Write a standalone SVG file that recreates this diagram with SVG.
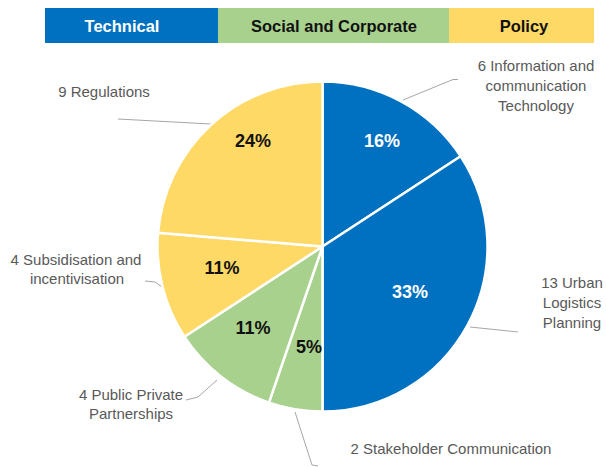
<svg xmlns="http://www.w3.org/2000/svg" width="606" height="467" viewBox="0 0 606 467">
  <style>
    .slice { stroke: #ffffff; stroke-width: 2.5; stroke-linejoin: round; }
    .blue { fill: #0070C0; }
    .green { fill: #A9D18E; }
    .yellow { fill: #FFD966; }
    .hdr { font-family: "Liberation Sans", Arial, sans-serif; font-weight: bold; font-size: 16.5px; text-anchor: middle; }
    .pct { font-family: "Liberation Sans", Arial, sans-serif; font-weight: bold; font-size: 18px; text-anchor: middle; }
    .lbl { font-family: "Liberation Sans", Arial, sans-serif; font-size: 15px; fill: #595959; text-anchor: middle; }
    .lead { fill: none; stroke: #A6A6A6; stroke-width: 1; }
  </style>

  <g id="legend">
    <rect x="45" y="8" width="173" height="35" class="blue"/>
    <rect x="218" y="8" width="231" height="35" class="green"/>
    <rect x="449" y="8" width="145" height="35" class="yellow"/>
    <text x="122" y="31.5" class="hdr" fill="#ffffff">Technical</text>
    <text x="334" y="31.5" class="hdr" fill="#111111">Social and Corporate</text>
    <text x="524" y="31.5" class="hdr" fill="#111111">Policy</text>
  </g>

  <g id="connectors">
    <polyline class="lead" points="403,100 453,79.5 458,79.5"/>
    <polyline class="lead" points="470,327 518,332"/>
    <polyline class="lead" points="295,412 312,465 318,466"/>
    <polyline class="lead" points="186,400 198,397 217,380"/>
    <polyline class="lead" points="145,281 155,282 162,287"/>
    <polyline class="lead" points="118,119 211,124"/>
  </g>

  <g id="ict">
    <path class="slice blue" d="M322.5,246.5 L322.5,81.5 A165,165 0 0 1 460.64,156.26 Z"/>
    <text x="382" y="147" class="pct" fill="#ffffff">16%</text>
    <text class="lbl"><tspan x="536" y="71">6 Information and</tspan><tspan x="536" y="91">communication</tspan><tspan x="536" y="111">Technology</tspan></text>
  </g>

  <g id="urban">
    <path class="slice blue" d="M322.5,246.5 L460.64,156.26 A165,165 0 0 1 322.5,411.5 Z"/>
    <text x="410" y="298" class="pct" fill="#ffffff">33%</text>
    <text class="lbl"><tspan x="572" y="288">13 Urban</tspan><tspan x="572" y="308">Logistics</tspan><tspan x="572" y="328">Planning</tspan></text>
  </g>

  <g id="stakeholder">
    <path class="slice green" d="M322.5,246.5 L322.5,411.5 A165,165 0 0 1 268.93,402.56 Z"/>
    <text x="309" y="353" class="pct" fill="#111111">5%</text>
    <text x="451" y="454" class="lbl">2 Stakeholder Communication</text>
  </g>

  <g id="ppp">
    <path class="slice green" d="M322.5,246.5 L268.93,402.56 A165,165 0 0 1 184.36,336.74 Z"/>
    <text x="253" y="334" class="pct" fill="#111111">11%</text>
    <text class="lbl"><tspan x="131" y="400">4 Public Private</tspan><tspan x="131" y="419">Partnerships</tspan></text>
  </g>

  <g id="subsidisation">
    <path class="slice yellow" d="M322.5,246.5 L184.36,336.74 A165,165 0 0 1 158.07,232.87 Z"/>
    <text x="222" y="274" class="pct" fill="#111111">11%</text>
    <text class="lbl"><tspan x="76" y="265">4 Subsidisation and</tspan><tspan x="77" y="284">incentivisation</tspan></text>
  </g>

  <g id="regulations">
    <path class="slice yellow" d="M322.5,246.5 L158.07,232.87 A165,165 0 0 1 322.5,81.5 Z"/>
    <text x="253" y="147" class="pct" fill="#111111">24%</text>
    <text x="104" y="97" class="lbl">9 Regulations</text>
  </g>
</svg>
